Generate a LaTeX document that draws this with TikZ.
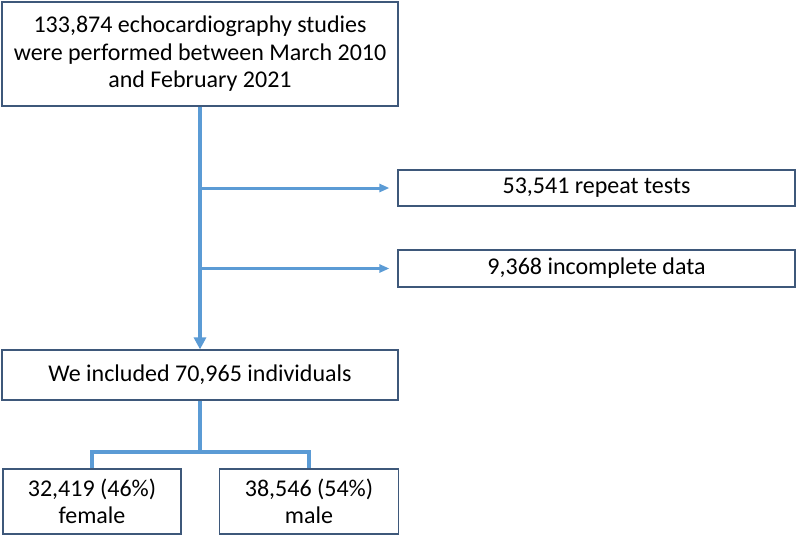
\documentclass[tikz,border=0pt]{standalone}
\usepackage{fontspec}
\setmainfont{Carlito}
\usepackage{xcolor}
\usetikzlibrary{arrows.meta}
\usetikzlibrary{calc, math}
\definecolor{myblue}{RGB}{91, 155, 213}
\definecolor{myframe}{RGB}{62, 88, 122}

\tikzset{
  box/.style={draw=myframe, line width=1.2pt, rectangle, align=center, inner sep=0pt,
    font=\fontsize{24}{27.5}\selectfont},
  flow/.style={draw=myblue, line width=4pt},
}

\begin{document}
\begin{tikzpicture}[x=1pt,y=1pt]
\tikzmath{
\Lx=200;
\Rx=596.5;
\Wl=396;
\Wr=397;
}
\useasboundingbox (0,0) rectangle (797,-536);

\node[box, minimum width=\Wl, minimum height=104] (start) at (\Lx,-54)
  {133,874 echocardiography studies\\were performed between March 2010\\and February 2021};
\node[box, minimum width=\Wr, minimum height=36] (repeat) at (\Rx,-188) {53,541 repeat tests};
\node[box, minimum width=\Wr, minimum height=37] (incomplete) at (\Rx,-268.5) {9,368 incomplete data};
\node[box, minimum width=\Wl, minimum height=50] (included) at (\Lx,-375) {We included 70,965 individuals};
\node[box, minimum width=178, minimum height=65] (female) at (92,-501.5) {32,419 (46\%)\\female};
\node[box, minimum width=179, minimum height=65] (male) at (309,-501.5) {38,546 (54\%)\\male};

\coordinate (B1) at (start.south |- repeat.west);
\coordinate (B2) at (start.south |- incomplete.west);
\coordinate (split) at ($(included.south)+(0,-51)$);

\draw[flow, -{Triangle[width=12pt,length=12pt]}] (start.south) -- (included.north);
\draw[draw=myblue, line width=3pt, shorten >=8pt, -{Triangle[width=8pt,length=10pt]}] (B1) -- (repeat.west);
\draw[draw=myblue, line width=3pt, shorten >=8pt, -{Triangle[width=8pt,length=10pt]}] (B2) -- (incomplete.west);

\draw[flow] (included.south) -- (split);
\draw[flow] (female.north) |- (split) -| (male.north);
\end{tikzpicture}
\end{document}
